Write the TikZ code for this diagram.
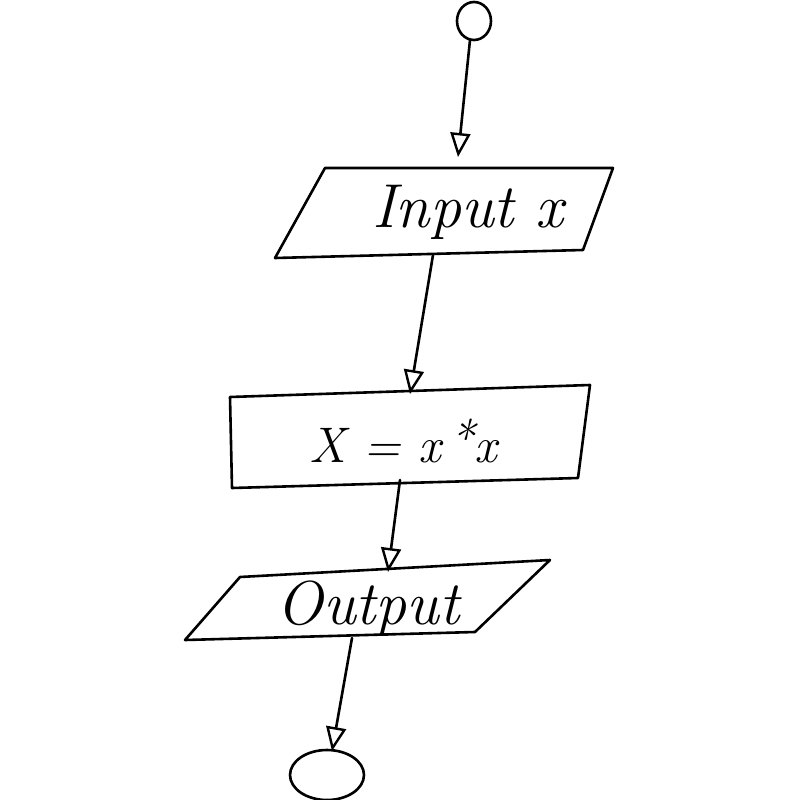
\documentclass[tikz,border=0pt]{standalone}
\usepackage{fontspec}
\usetikzlibrary{arrows.meta}
\begin{document}
\begin{tikzpicture}[x=1pt,y=-1pt,line width=2.6pt,line join=round,line cap=round,
  flow/.style={draw=black,-{Triangle[open,length=24pt,width=20pt,line width=2.4pt]}},
  lbl/.style={font=\itshape\fontsize{62}{62}\selectfont,inner sep=0pt}]
\useasboundingbox (0,0) rectangle (800,800);
% start circle
\draw (474,21) ellipse [x radius=17, y radius=19];
\coordinate (s) at (470,40);
% input parallelogram
\draw (325,168) -- (613,168) -- (583,250) -- (275,258) -- cycle;
\node[lbl] (in) at (468,212) {Input x};
\coordinate (inT) at (458,157);
\coordinate (inB) at (433,255);
% process rectangle
\draw (230,397) -- (590,385) -- (578,478) -- (232,488) -- cycle;
\node[lbl,font=\fontsize{50}{50}\selectfont\itshape] (pr) at (403,441) {X = x\,\raisebox{0.12em}{*}x};
\coordinate (prT) at (410,394);
\coordinate (prB) at (400,480);
% output parallelogram
\draw (240,577) -- (550,560) -- (475,632) -- (185,640) -- cycle;
\node[lbl] (out) at (368,609) {Output};
\coordinate (outT) at (388,572);
\coordinate (outB) at (352,638);
% end ellipse
\draw (327,775) ellipse [x radius=37, y radius=25];
\coordinate (e) at (332,751);
% connectors
\draw[flow] (s) -- (inT);
\draw[flow] (inB) -- (prT);
\draw[flow] (prB) -- (outT);
\draw[flow] (outB) -- (e);
\end{tikzpicture}
\end{document}
